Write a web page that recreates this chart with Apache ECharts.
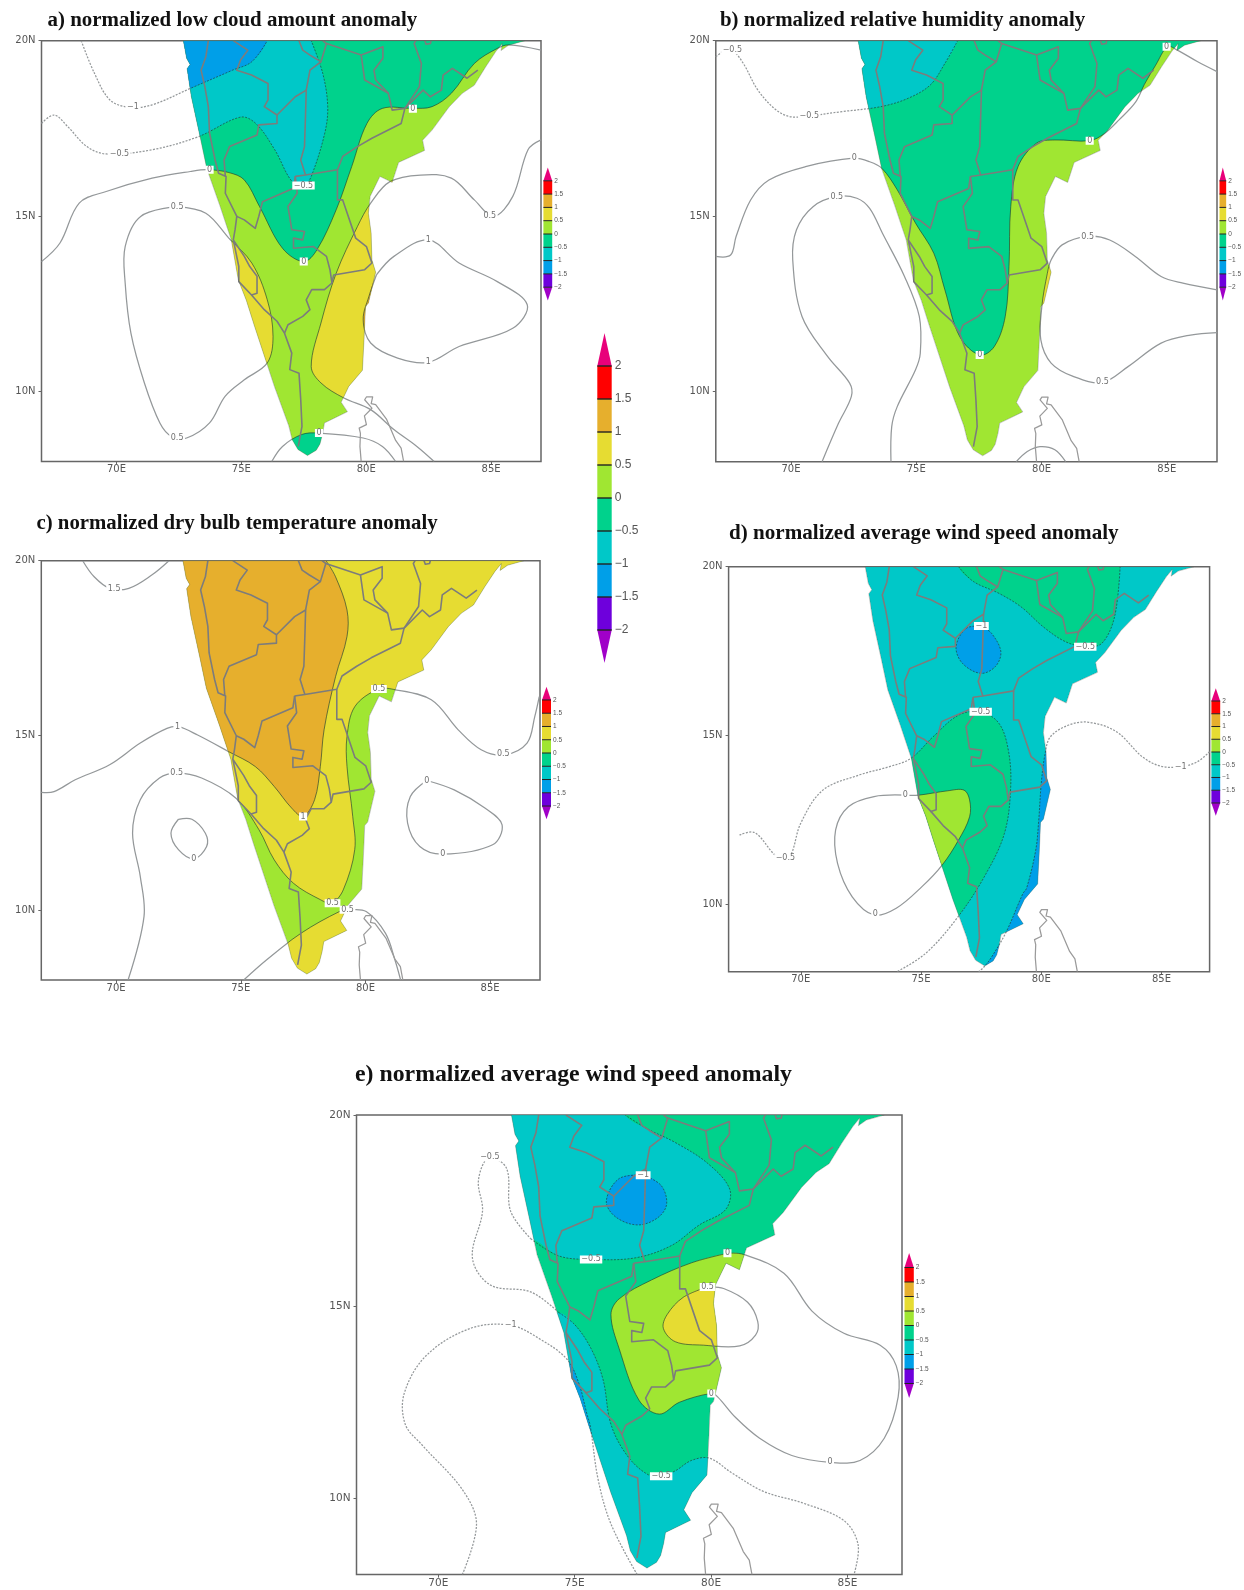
<!DOCTYPE html>
<html><head><meta charset="utf-8">
<style>html,body{margin:0;padding:0;background:#fff}#c{width:1244px;height:1590px;filter:blur(0.6px)}</style>
<script src="https://cdn.jsdelivr.net/npm/echarts@6/dist/echarts.min.js"></script>
</head><body><div id="c"></div>
<script>
// ---------- colour levels ----------
const colorLevels = [-2.5,-2,-1.5,-1,-0.5,0,0.5,1,1.5,2,2.5];
const levelColors = ['#a000c8','#6e00dc','#009fe8','#00c8c8','#00d28c','#a0e632','#e6dc32','#e6af2d','#ff0000','#e8007a'];
const BLUE=levelColors[2], CYAN=levelColors[3], GREEN=levelColors[4], LIME=levelColors[5], YELLOW=levelColors[6], ORANGE=levelColors[7];
// ---------- geography (lon, lat) ----------
const coastLine = [[72.68,20],[72.81,19.5],[72.95,19.32],[72.83,19.2],[73.0,18.4],[73.35,17.26],[73.62,16.35],[74.14,15.3],[74.6,14.32],[74.88,13.18],[75.2,12.6],[75.52,11.88],[76.33,10.13],[76.9,9.02],[77.04,8.62],[77.27,8.34],[77.65,8.17],[78.0,8.32],[78.15,8.5],[78.26,8.81],[78.33,9.1],[79.25,9.42],[79.0,9.69],[79.3,10.14],[79.85,10.6],[79.92,11.57],[79.97,12.42],[80.09,12.52],[80.38,13.4],[80.23,13.75],[80.2,14.51],[80.09,15.08],[80.16,15.56],[80.55,16.13],[81.04,15.96],[81.3,16.53],[82.34,16.87],[82.26,17.16],[82.64,17.45],[83.32,18.11],[83.85,18.5],[84.33,18.73],[84.79,19.26],[85.2,19.7],[85.45,19.92],[85.4,19.72],[85.7,19.87],[86.35,20]];
const sriLanka = [[79.8,8],[79.75,8.43],[79.77,8.8],[79.72,8.95],[80.01,9.05],[79.93,9.3],[80.23,9.52],[79.94,9.76],[80.01,9.84],[80.26,9.84],[80.2,9.65],[80.38,9.62],[80.82,9.2],[81.18,8.6],[81.4,8.38],[81.5,8]];
const stateBorders = [
 [[73.68,20],[73.58,19.54],[73.39,19.16],[73.54,18.69],[73.68,18.12],[73.73,17.36],[73.95,16.6],[74.09,16.22],[74.39,16.13],[74.36,15.65],[74.82,14.99],[74.75,14.61],[74.68,14.32],[75.12,13.85],[75.34,13.56],[75.63,13.28],[75.63,12.8],[75.41,12.75],[74.9,13.13],[74.9,13.56],[74.68,14.32]],
 [[75.41,12.75],[75.92,12.33],[76.43,12.0],[76.73,11.66],[77.02,11.09],[76.94,10.62],[77.31,10.52],[77.38,9.76],[77.43,9.0],[77.28,8.43]],
 [[74.68,20],[75.26,19.73],[74.97,19.45],[74.82,19.16],[75.41,19.02],[76.07,18.78],[76.07,18.31],[75.92,18.12],[76.43,17.88],[76.43,17.64],[75.7,17.6],[75.63,17.31],[74.53,16.98],[74.31,16.6],[74.36,16.13]],
 [[76.43,17.88],[77.16,18.4],[77.6,18.59],[77.57,17.83],[77.53,16.98],[77.38,16.6],[77.57,16.17]],
 [[77.6,18.59],[77.75,19.16],[78.19,19.4],[78.41,19.92],[78.26,20]],
 [[77.31,20],[77.46,19.73],[77.75,19.59],[78.19,19.4]],
 [[77.16,16.13],[77.57,16.17],[78.85,16.32],[79.06,16.7],[79.65,16.98],[80.23,17.22],[81.4,17.64],[81.55,18.07],[82.28,18.59],[82.57,18.4],[83.01,18.59],[83.08,19.02],[83.45,19.21],[84.04,18.93],[84.47,19.16]],
 [[77.16,16.13],[77.09,15.79],[75.85,15.41],[75.7,14.99],[75.56,14.65],[75.12,14.89],[74.82,14.99]],
 [[77.16,16.13],[77.24,15.65],[76.87,15.27],[77.02,14.61],[77.53,14.56],[77.46,14.32],[77.09,14.37],[77.09,14.08],[77.89,14.13],[78.41,13.85],[78.55,13.47],[78.63,13.09],[78.33,12.9],[77.82,12.9],[77.6,12.61],[77.75,12.33],[77.46,12.14],[76.87,11.9],[76.73,11.66]],
 [[78.85,16.32],[78.85,15.46],[79.06,15.46],[79.58,14.37],[80.01,14.13],[80.23,13.66],[79.94,13.47],[78.7,13.32],[78.63,13.09]],
 [[78.41,19.92],[79.8,19.59],[80.67,19.83],[80.67,19.5],[80.31,19.16],[80.38,18.88],[80.89,18.5],[81.04,18.02],[81.55,18.07],[82.13,18.69],[82.21,19.35],[81.92,19.92],[81.99,20]],
 [[79.8,19.59],[79.94,18.88],[80.89,18.5]],
 [[82.35,20],[82.4,19.9],[82.57,19.92],[82.6,20]]
];
// ---------- titles ----------
const titleA='a) normalized low cloud amount anomaly', titleB='b) normalized relative humidity anomaly', titleC='c) normalized dry bulb temperature anomaly', titleD='d) normalized average wind speed anomaly', titleE='e) normalized average wind speed anomaly';
// ---------- contours: band = fill colour on land, neg = dashed, pts, close = extra off-shore points closing the fill ----------
const contoursA = [
 {band:GREEN,pts:[[67,13.7],[67.74,14.23],[68.51,15.37],[69.59,15.7],[71.43,16.08],[72.96,16.27],[73.66,16.32],[74.5,16.24],[75.12,16.03],[75.73,15.27],[76.65,14.08],[77.5,13.7],[78.03,14.04],[78.8,15.18],[79.42,16.41],[80.03,17.64],[80.65,18.07],[81.87,18.07],[82.64,18.12],[83.41,18.5],[84.33,19.35],[85.25,19.78],[85.71,19.88],[87,19.73]],close:[[87,21],[67,21]]},
 {band:CYAN,neg:true,pts:[[67,17.64],[67.51,17.88],[68.05,17.55],[68.82,16.98],[69.59,16.77],[71.43,16.89],[73.27,17.26],[74.96,17.82],[75.58,17.64],[76.34,16.89],[77.04,15.98],[77.53,15.89],[77.8,16.13],[78.34,17.36],[78.46,18.12],[78.26,19.07],[77.8,20]],close:[[77.3,21],[67,21]]},
 {band:BLUE,neg:true,pts:[[68.59,20],[69.12,19.07],[69.74,18.31],[70.51,18.1],[71.43,18.17],[72.96,18.64],[74.65,19.16],[75.42,19.4],[76.04,20]],close:[[76.4,21],[68.3,21]]},
 {band:YELLOW,loop:true,pts:[[72.43,15.27],[73.58,15.08],[74.5,14.37],[75.42,13.66],[76.04,12.61],[76.27,11.57],[76.04,10.81],[75.12,10.33],[74.35,9.86],[73.73,9.1],[72.81,8.67],[72.2,8.72],[71.74,9.1],[71.12,10.24],[70.58,11.66],[70.35,13.09],[70.35,14.13],[70.97,14.99]]},
 {band:YELLOW,pts:[[87,17.17],[86.48,16.89],[85.87,15.56],[85.1,14.99],[84.33,15.46],[83.41,16.08],[82.18,16.17],[80.95,15.98],[80.18,15.37],[79.65,14.7],[78.8,13.37],[78.19,11.95],[77.8,10.71],[78.19,10.24],[79.11,9.81],[80.18,9.48],[81.11,8.91],[82.03,8.43],[82.72,8]],close:[[88,7],[88,17]]},
 {band:ORANGE,loop:true,pts:[[80.41,13.32],[81.11,13.85],[82.49,14.32],[83.72,13.66],[85.25,13.13],[86.45,12.47],[85.87,11.8],[83.72,11.28],[82.49,10.83],[81.26,10.95],[80.18,11.38],[79.88,12.04],[80.11,12.71]]},
 {band:GREEN,pts:[[76.22,8],[76.65,8.43],[77.42,8.77],[78.11,8.81],[79.88,8.67],[80.65,8.43],[81.18,8]],close:[[81.5,7],[76,7]]}
];
const labelsA = [[70.66,18.1,'−1'],[70.12,16.77,'−0.5'],[73.73,16.32,'0'],[77.49,15.87,'−0.5'],[77.5,13.7,'0'],[81.87,18.06,'0'],[72.43,15.27,'0.5'],[84.95,14.99,'0.5'],[82.49,14.32,'1'],[82.49,10.83,'1'],[72.43,8.67,'0.5'],[78.11,8.81,'0']];
const contoursB = [
 {band:GREEN,pts:[[67,13.85],[67.59,13.89],[67.81,14.42],[68.39,15.46],[69.12,16.03],[70.58,16.41],[72.49,16.65],[73.14,16.55],[73.63,16.36],[74.24,15.75],[74.97,14.8],[75.7,13.94],[76.14,12.9],[76.73,11.57],[77.53,11.04],[78.11,11.28],[78.55,12.14],[78.7,13.56],[78.77,15.27],[79.06,16.41],[79.8,17.08],[80.53,17.17],[81.92,17.15],[82.5,17.35],[83.1,17.75],[83.75,18.25],[84.1,18.75],[84.55,19.3],[85.03,19.83],[85.42,19.73],[86.23,19.4],[87,19.12]],close:[[87,21],[67,21]]},
 {band:CYAN,neg:true,pts:[[67,19.54],[67.37,19.73],[67.66,19.73],[68.1,19.35],[68.68,18.59],[69.42,18.02],[70,17.83],[70.73,17.86],[72.05,17.98],[73.58,18.12],[74.68,18.36],[75.56,18.74],[76.14,19.35],[76.65,20]],close:[[77,21],[67,21]]},
 {pts:[[71.24,8],[71.9,9.1],[72.41,9.86],[72.34,10.24],[71.46,11],[70.44,12.14],[70.07,13.75],[70.22,14.61],[70.88,15.27],[71.83,15.56],[72.63,15.51],[73.14,15.22],[73.65,14.51],[74.53,13.28],[75.12,12.14],[75.16,11.09],[74.97,10.62],[74.24,9.57],[74.02,9],[73.99,8]]},
 {band:YELLOW,pts:[[87,12.9],[85.64,13.09],[84.77,13.28],[83.74,13.85],[82.72,14.32],[81.84,14.42],[80.82,14.18],[80.38,13.75],[80.23,13.37],[80.01,12.42],[79.97,11.47],[80.38,10.81],[81.26,10.43],[82.43,10.26],[83.45,10.71],[84.77,11.38],[85.94,11.61],[87,11.68]]},
 {pts:[[78.99,8],[79.43,8.29],[79.94,8.43],[80.53,8.34],[80.96,8]]}
];
const labelsB = [[67.66,19.73,'−0.5'],[70.73,17.86,'−0.5'],[72.53,16.65,'0'],[71.83,15.56,'0.5'],[77.53,11.04,'0'],[81.92,17.15,'0'],[84.99,19.83,'0'],[81.84,14.42,'0.5'],[82.43,10.26,'0.5']];
const contoursC = [
 {pts:[[68.66,20],[69.12,19.54],[69.74,19.21],[70.51,19.21],[71.43,19.59],[72.12,20]]},
 {band:YELLOW,pts:[[70.48,8],[71.12,9.82],[70.97,10.96],[70.66,12.2],[70.97,13.16],[71.74,13.78],[72.43,13.92],[73.43,13.78],[74.81,13.2],[75.73,12.3],[76.34,11.44],[77.11,10.77],[78.19,10.3],[78.65,10.2],[79.11,10.58],[79.57,11.73],[79.49,12.68],[79.26,14.11],[79.26,14.97],[79.57,15.82],[80.49,16.32],[81.11,16.32],[82.64,16.02],[83.72,15.16],[84.64,14.59],[85.56,14.44],[86.48,14.78],[86.79,15.54],[86.97,16.11]],close:[[88,21],[66,21],[66,7]]},
 {band:ORANGE,pts:[[67,13.37],[67.51,13.39],[68.36,13.73],[69.74,14.16],[70.97,14.78],[72.04,15.2],[72.5,15.25],[73.27,15.01],[74.5,14.54],[75.58,14.11],[76.34,13.54],[77.04,12.92],[77.5,12.68],[77.96,13.16],[78.19,14.11],[78.34,15.16],[78.8,16.68],[79.26,17.83],[79.26,18.59],[78.8,19.54],[78.42,20]],close:[[78,21],[67,21]]},
 {band:YELLOW,pts:[[75.12,8],[76.04,8.58],[77.42,9.34],[78.96,9.96],[79.34,10.01],[80.03,9.96],[80.8,9.34],[81.18,8.58],[81.41,8]],close:[[81.5,7],[75,7]]},
 {loop:true,pts:[[72.5,12.6],[73.04,12.6],[73.58,12.2],[73.63,11.82],[73.12,11.47],[72.5,11.73],[72.2,12.2]]},
 {loop:true,pts:[[82.46,13.71],[83.56,13.44],[84.79,12.92],[85.48,12.44],[85.1,11.87],[83.1,11.6],[82.18,11.82],[81.69,12.49],[81.8,13.25]]}
];
const labelsC = [[69.92,19.2,'1.5'],[72.46,15.25,'1'],[72.43,13.92,'0.5'],[73.12,11.47,'0'],[77.5,12.68,'1'],[80.54,16.33,'0.5'],[85.53,14.46,'0.5'],[82.46,13.71,'0'],[83.1,11.6,'0'],[78.68,10.2,'0.5'],[79.28,10.01,'0.5']];
const contoursD = [
 {band:GREEN,neg:true,pts:[[76.56,20],[77.18,19.56],[78.24,19.21],[79.16,18.81],[80.08,18.22],[81,17.78],[81.83,17.63],[82.52,17.73],[83.05,18.52],[83.28,20]],close:[[83.3,21],[76.4,21]]},
 {band:BLUE,neg:true,loop:true,pts:[[77.51,18.24],[76.87,18.17],[76.46,17.63],[76.72,17.14],[77.48,16.84],[78.09,17.04],[78.32,17.48],[77.94,18.02]]},
 {band:GREEN,neg:true,pts:[[67.45,12.05],[68.09,12.12],[68.93,11.46],[69.36,11.36],[69.62,11.51],[70,12.4],[70.92,13.38],[72.44,13.83],[73.66,14.07],[74.58,14.32],[75.5,14.96],[76.56,15.6],[77.48,15.7],[78.24,15.36],[78.63,14.57],[78.73,13.48],[78.47,12.1],[77.63,10.81],[76.49,9.58],[75.19,8.54],[74,8]]},
 {band:LIME,loop:true,pts:[[74.35,13.23],[73.05,13.19],[71.98,12.89],[71.45,12.2],[71.53,11.21],[72.14,10.22],[73.05,9.68],[73.97,9.88],[75.04,10.52],[75.88,11.16],[76.56,11.9],[77.02,12.59],[77.02,13.09],[76.79,13.38],[76.11,13.36],[74.89,13.23]]},
 {band:BLUE,neg:true,pts:[[87,14.52],[86.49,14.22],[85.8,14.07],[84.96,14.09],[84.2,14.37],[83.13,15.11],[81.98,15.39],[81.15,15.31],[80.38,14.96],[80.15,14.42],[80,13.58],[79.89,12.44],[79.77,11.6],[79.39,10.47],[79.24,10.32],[78.55,9.19],[77.94,8.44],[77.63,8.15],[77.4,8]],close:[[77.4,7],[88,7],[88,14.5]]}
];
const labelsD = [[77.51,18.24,'−1'],[81.83,17.63,'−0.5'],[77.48,15.7,'−0.5'],[85.8,14.07,'−1'],[74.35,13.23,'0'],[73.1,9.7,'0'],[69.36,11.36,'−0.5']];
const contoursE = [
 {neg:true,pts:[[74.42,14.84],[73.39,15.38],[71.91,15.56],[71.25,16.27],[71.62,17.49],[71.47,18.29],[71.84,18.88],[72.5,18.61],[72.65,17.49],[73.39,16.77]]},
 {band:CYAN,neg:true,pts:[[73.39,16.77],[74.42,16.32],[75.6,16.23],[77.22,16.27],[78.54,16.59],[79.57,17.13],[80.53,17.53],[80.68,18.07],[79.87,18.74],[78.69,19.28],[77.66,19.64],[76.85,20]],close:[[76.4,21],[70,21],[70,17]]},
 {band:CYAN,neg:true,pts:[[74.42,14.84],[75.01,14.52],[75.6,13.9],[76.04,13.09],[76.33,11.92],[76.92,11.11],[77.66,10.62],[78.17,10.57],[78.69,10.71],[79.28,10.98],[79.94,11.04],[80.75,10.66],[81.93,10.17],[83.4,9.86],[84.87,9.41],[85.39,8.78],[85.24,8]],close:[[85,7],[67,7],[70,15]]},
 {band:BLUE,neg:true,loop:true,pts:[[77.51,18.43],[76.63,18.34],[76.16,17.76],[76.48,17.35],[77.29,17.13],[78.03,17.31],[78.37,17.67],[78.17,18.16]]},
 {band:BLUE,neg:true,pts:[[70.88,8],[71.4,9.32],[70.88,10.22],[69.41,11.38],[68.79,11.92],[68.75,12.73],[69.56,13.72],[71.18,14.43],[72.65,14.51],[73.68,14.17],[74.71,13.63],[75.15,13],[75.45,12.19],[75.57,11.88],[75.86,10.48],[76.33,9.32],[77.29,8]],close:[[77.3,7],[70.5,7]]},
 {band:LIME,loop:true,pts:[[80.6,16.39],[79.28,16.14],[77.81,15.69],[76.63,15.2],[76.33,14.79],[76.63,13.9],[77.36,12.55],[78.1,12.19],[78.84,12.5],[80.01,12.73],[80.24,12.64],[80.9,12.1],[81.78,11.56],[82.96,11.11],[84.36,10.93],[85.46,10.98],[86.35,11.56],[86.86,12.64],[86.79,13.45],[86.2,13.99],[84.87,14.3],[83.7,14.88],[82.67,15.87],[81.19,16.36]]},
 {band:YELLOW,loop:true,pts:[[79.87,15.51],[78.98,15.24],[78.39,14.79],[78.25,14.43],[78.69,14.08],[79.72,13.99],[81.05,13.97],[81.63,14.25],[81.71,14.61],[81.34,15.11],[80.46,15.47]]}
];
const labelsE = [[71.89,18.9,'−0.5'],[77.51,18.43,'−1'],[75.6,16.23,'−0.5'],[80.6,16.39,'0'],[79.87,15.51,'0.5'],[72.65,14.51,'−1'],[80.01,12.73,'0'],[78.17,10.57,'−0.5'],[84.36,10.93,'0']];
// ---------- axes ----------
const lonTicks=[70,75,80,85], latTicks=[10,15,20];

// ---------- assembling ----------
const panels=[
 {t:titleA,tx:42.6,ty:5.5,fs:20.9,af:10,base:LIME,c:contoursA,l:labelsA,g:[41.5,40.7,499.5,420.8],bar:[543.4,167.5,8.8,133]},
 {t:titleB,tx:715,ty:5.5,fs:20.9,af:10,base:LIME,c:contoursB,l:labelsB,g:[715.8,40.7,501.2,421],bar:[1219.5,167.5,8.8,133]},
 {t:titleC,tx:31.5,ty:507.8,fs:20.8,af:10,base:LIME,c:contoursC,l:labelsC,g:[41.3,560.7,498.7,419.3],bar:[542,686.7,9,132.6]},
 {t:titleD,tx:724,ty:518.5,fs:21.1,af:10,base:CYAN,c:contoursD,l:labelsD,g:[728.6,566.7,481,405],bar:[1211.4,688.3,8.8,127.4]},
 {t:titleE,tx:350,ty:1058,fs:23.8,af:10.5,base:GREEN,c:contoursE,l:labelsE,g:[356.5,1115,545.5,459.6],bar:[904.5,1253,9.3,145]}
];
const SANS='"DejaVu Sans",sans-serif';
const grids=[],xAxes=[],yAxes=[],series=[],titles=[];
function fmtNum(v){return (v<0?'−':'')+Math.abs(v);}

panels.forEach((p,i)=>{
  titles.push({text:p.t,left:p.tx,top:p.ty,textStyle:{fontFamily:'"Liberation Serif",serif',fontWeight:'bold',fontSize:p.fs,color:'#111'}});
  grids.push({left:p.g[0],top:p.g[1],width:p.g[2],height:p.g[3],show:true,borderColor:'#666',borderWidth:1.5,backgroundColor:'#fff'});
  xAxes.push({gridIndex:i,type:'value',min:67,max:87,splitLine:{show:false},axisLine:{show:false},
    axisTick:{show:true,length:3,customValues:lonTicks,lineStyle:{color:'#666'}},
    axisLabel:{customValues:lonTicks,formatter:v=>v+'E',color:'#555',fontSize:p.af,fontFamily:SANS,margin:3}});
  yAxes.push({gridIndex:i,type:'value',min:8,max:20,splitLine:{show:false},axisLine:{show:false},
    axisTick:{show:true,length:3,customValues:latTicks,lineStyle:{color:'#666'}},
    axisLabel:{customValues:latTicks,formatter:v=>v+'N',color:'#555',fontSize:p.af,fontFamily:SANS,margin:6}});
  const toPx=(api,pts)=>pts.map(q=>api.coord(q));
  const common={type:'custom',xAxisIndex:i,yAxisIndex:i,coordinateSystem:'cartesian2d',clip:true,silent:true,animation:false,encode:{x:0,y:1}};
  // contour lines over the sea
  series.push({...common,z:2,name:'contours',data:p.c.map((c,k)=>[c.pts[0][0],c.pts[0][1],k]),renderItem:(par,api)=>{
    const c=p.c[api.value(2)];
    return {type:'polyline',shape:{points:toPx(api,c.loop?c.pts.concat([c.pts[0]]):c.pts),smooth:0.35},
      style:{fill:null,stroke:'#94989a',lineWidth:1.25,lineDash:c.neg?[2,1.4]:null}};
  }});
  // land base + bands + contours on land
  series.push({...common,z:3,name:'land',data:[[coastLine[0][0],coastLine[0][1],0]],renderItem:(par,api)=>{
    const land=toPx(api,coastLine);
    const kids=[{type:'polygon',shape:{points:land},style:{fill:p.base}}];
    p.c.forEach(c=>{ if(c.band) kids.push({type:'polygon',shape:{points:toPx(api,c.pts.concat(c.close||[])),smooth:0.35},style:{fill:c.band}}); });
    p.c.forEach(c=>{ kids.push({type:'polyline',shape:{points:toPx(api,c.loop?c.pts.concat([c.pts[0]]):c.pts),smooth:0.35},style:{fill:null,stroke:'rgba(30,60,50,0.8)',lineWidth:0.8,lineDash:c.neg?[2,1.4]:null}}); });
    return {type:'group',clipPath:{type:'polygon',shape:{points:land}},children:kids};
  }});
  // borders, coast, Sri Lanka
  series.push({...common,z:4,name:'borders',data:stateBorders.map((b,k)=>[b[0][0],b[0][1],k]),renderItem:(par,api)=>({
    type:'polyline',shape:{points:toPx(api,stateBorders[api.value(2)])},style:{fill:null,stroke:'#7c7c7c',lineWidth:1.6,lineJoin:'round'}})});
  series.push({...common,z:4,name:'island',data:[[sriLanka[0][0],sriLanka[0][1],0]],renderItem:(par,api)=>({
    type:'polyline',shape:{points:toPx(api,sriLanka)},style:{fill:null,stroke:'#9a9a9a',lineWidth:1.25,lineJoin:'round'}})});
  series.push({...common,z:4,name:'coast',data:[[coastLine[0][0],coastLine[0][1],0]],renderItem:(par,api)=>({
    type:'polygon',shape:{points:toPx(api,coastLine)},style:{fill:null,stroke:'rgba(90,100,90,0.5)',lineWidth:0.7}})});
  // contour labels
  series.push({...common,z:5,name:'labels',data:p.l.map(l=>[l[0],l[1],l[2]]),dimensions:['x','y',{name:'t',type:'ordinal'}],renderItem:(par,api)=>{
    const pt=api.coord([api.value(0),api.value(1)]);
    return {type:'text',style:{text:p.l[par.dataIndex][2],x:pt[0],y:pt[1],align:'center',verticalAlign:'middle',fill:'#707070',fontSize:8,fontFamily:SANS,backgroundColor:'#fff',padding:[0,1.5]}};
  }});
});

// colour bars: small one next to each panel plus the big central one
const bars=panels.map(p=>({b:p.bar,font:6.5,m:2,w:1})).concat([{b:[597.3,333,14.4,330],font:12,m:3,w:1.4}]);
bars.forEach(bar=>{
  const gi=grids.length;
  grids.push({left:bar.b[0],top:bar.b[1],width:bar.b[2],height:bar.b[3],show:false});
  xAxes.push({gridIndex:gi,type:'value',min:0,max:1,show:false});
  yAxes.push({gridIndex:gi,type:'value',min:-2.5,max:2.5,interval:0.5,position:'right',splitLine:{show:false},axisLine:{show:false},axisTick:{show:false},
    axisLabel:{formatter:v=>Math.abs(v)>2?'':fmtNum(v),color:'#555',fontSize:bar.font,fontFamily:'"Liberation Sans",sans-serif',margin:bar.m,showMinLabel:true,showMaxLabel:true,hideOverlap:false,interval:0}});
  series.push({type:'custom',xAxisIndex:gi,yAxisIndex:gi,coordinateSystem:'cartesian2d',silent:true,animation:false,z:6,clip:false,encode:{x:0,y:1},
    data:levelColors.map((c,k)=>[0,colorLevels[k],k]),renderItem:(par,api)=>{
      const k=api.value(2),lo=colorLevels[k],hi=colorLevels[k+1];
      const poly=k===0?[[0,hi],[1,hi],[0.5,lo]]:k===levelColors.length-1?[[0,lo],[1,lo],[0.5,hi]]:[[0,lo],[1,lo],[1,hi],[0,hi]];
      const kids=[{type:'polygon',shape:{points:poly.map(q=>api.coord(q))},style:{fill:levelColors[k]}}];
      if(k>0) kids.push({type:'line',shape:{x1:api.coord([0,lo])[0],y1:api.coord([0,lo])[1],x2:api.coord([1,lo])[0],y2:api.coord([1,lo])[1]},style:{stroke:'#222',lineWidth:bar.w}});
      return {type:'group',children:kids};
    }});
});

const chart=echarts.init(document.getElementById('c'),null,{renderer:'canvas',width:1244,height:1590});
chart.setOption({animation:false,backgroundColor:'#fff',title:titles,grid:grids,xAxis:xAxes,yAxis:yAxes,series});
</script></body></html>
